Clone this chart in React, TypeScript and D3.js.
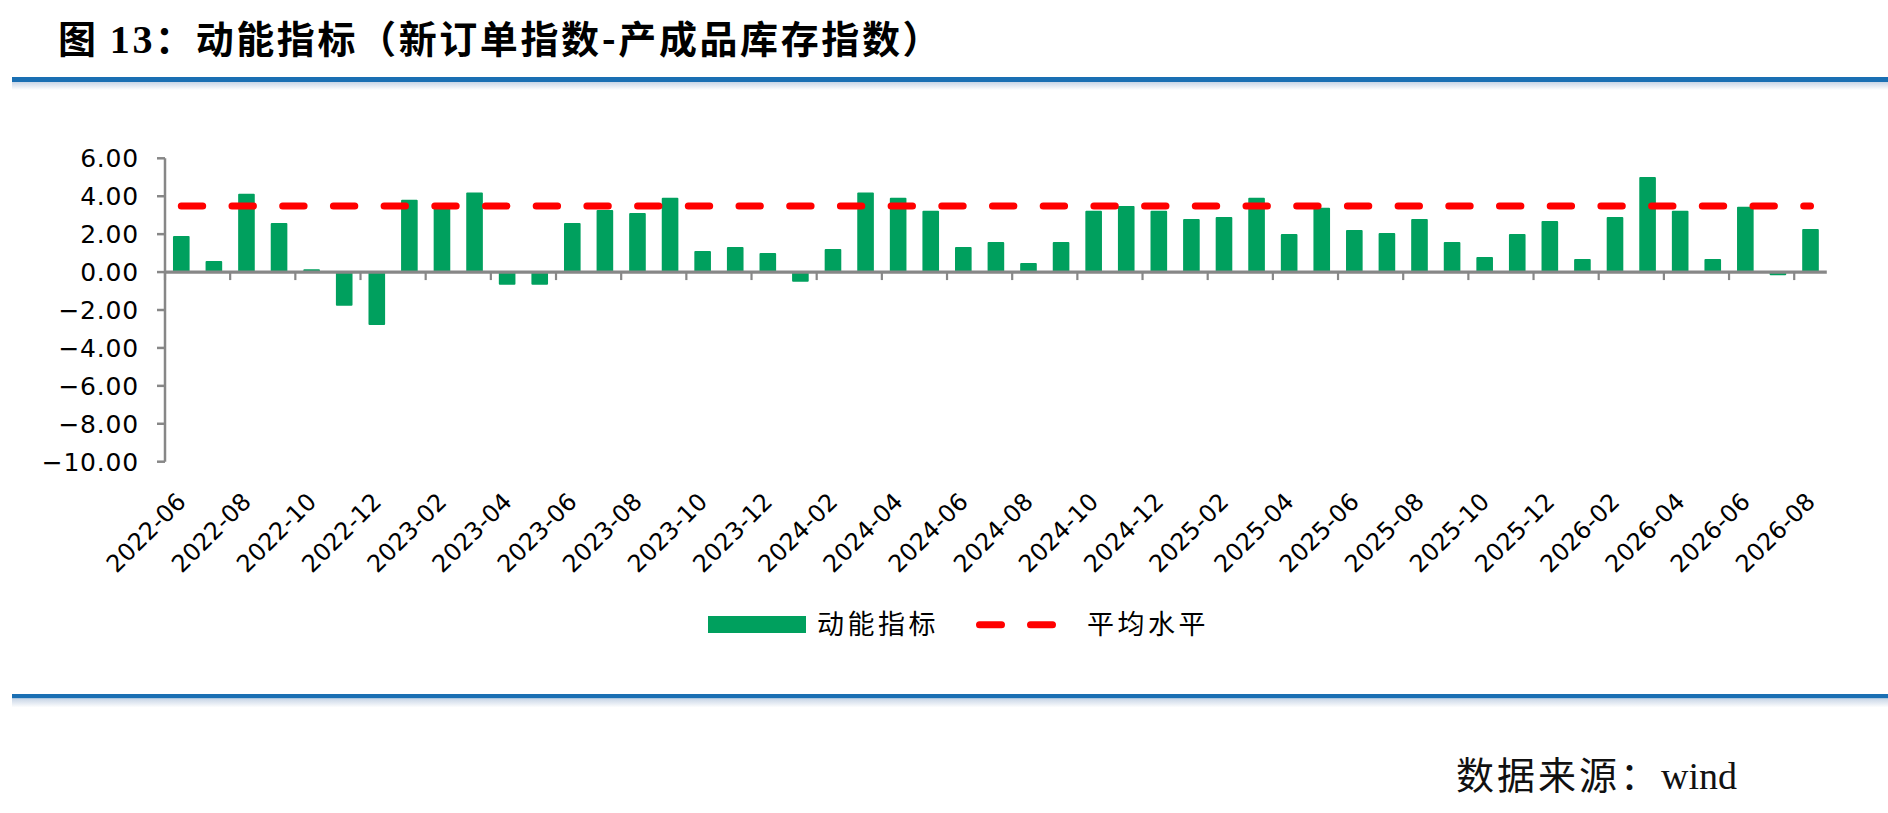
import React, { useEffect } from "react";
import * as d3 from "d3";

// categories (monthly)
const months = [
  "2022-06", "2022-07", "2022-08", "2022-09", "2022-10", "2022-11", "2022-12",
  "2023-01", "2023-02", "2023-03", "2023-04", "2023-05", "2023-06", "2023-07",
  "2023-08", "2023-09", "2023-10", "2023-11", "2023-12", "2024-01", "2024-02",
  "2024-03", "2024-04", "2024-05", "2024-06", "2024-07", "2024-08", "2024-09",
  "2024-10", "2024-11", "2024-12", "2025-01", "2025-02", "2025-03", "2025-04",
  "2025-05", "2025-06", "2025-07", "2025-08", "2025-09", "2025-10", "2025-11",
  "2025-12", "2026-01", "2026-02", "2026-03", "2026-04", "2026-05", "2026-06",
  "2026-07", "2026-08",
];

// 动能指标 = 新订单指数 - 产成品库存指数
const momentum = [
  1.90, 0.58, 4.13, 2.59, 0.15, -1.78, -2.79,
  3.81, 3.45, 4.20, -0.67, -0.67, 2.59, 3.28,
  3.12, 3.92, 1.11, 1.32, 1.01, -0.51, 1.22,
  4.20, 3.92, 3.23, 1.32, 1.59, 0.48, 1.59,
  3.23, 3.49, 3.23, 2.80, 2.91, 3.92, 2.01,
  3.39, 2.22, 2.06, 2.80, 1.59, 0.79, 2.01,
  2.70, 0.69, 2.91, 5.02, 3.23, 0.69, 3.45,
  -0.17, 2.27,
];

// 平均水平
const avgLevel = 3.48;

const yTicks = [-10, -8, -6, -4, -2, 0, 2, 4, 6];

const W = 1888;
const H = 813;
const GREEN = "#00A05E";
const RED = "#FF0000";
const AXIS = "#878787";
const BLUE = "#1A6FB3";
const CJK = "'Noto Sans CJK SC', sans-serif";
const NUM = "'DejaVu Sans', sans-serif";
const SERIF = "'Liberation Serif', serif";

export default function App() {
  useEffect(() => {
    document.body.style.margin = "0";
  }, []);

  const x = d3.scaleBand<string>()
    .domain(months)
    .range([165, 1826.8])
    .paddingInner(0.49)
    .paddingOuter(0.245);
  const y = d3.scaleLinear().domain([-10, 6]).range([461.7, 158.3]);
  const cx = (m: string) => (x(m) as number) + x.bandwidth() / 2;
  const step = x.step();
  const [x0, x1] = x.range();

  const avgLine = d3.line<string>()
    .x((m) => cx(m))
    .y(() => y(avgLevel));

  // tick marks at category boundaries, every 2 categories
  const boundaries = d3.range(0, months.length + 1, 2).map((i) => x0 + i * step);

  return (
    <svg width={W} height={H} style={{ display: "block", background: "#fff" }}>
      <defs>
        <linearGradient id="shade" x1="0" y1="0" x2="0" y2="1">
          <stop offset="0%" stopColor="#C8D5E6" />
          <stop offset="100%" stopColor="#ffffff" />
        </linearGradient>
      </defs>

      {/* title */}
      <text x={58} y={53} fontFamily={CJK} fontWeight={700} fontSize={38}
        letterSpacing={2.6} fill="#000">
        <tspan>图 </tspan>
        <tspan fontFamily={SERIF} fontSize={40}>13</tspan>
        <tspan>：动能指标（新订单指数-产成品库存指数）</tspan>
      </text>

      {/* header / footer rules */}
      <rect x={12} y={77} width={W - 12} height={5} fill={BLUE} />
      <rect x={12} y={82} width={W - 12} height={8} fill="url(#shade)" />
      <rect x={12} y={694} width={W - 12} height={4.5} fill={BLUE} />
      <rect x={12} y={698.5} width={W - 12} height={9} fill="url(#shade)" />

      {/* bars */}
      {months.map((m, i) => (
        <rect key={m} x={x(m)} width={x.bandwidth()}
          y={y(Math.max(0, momentum[i]))}
          height={Math.abs(y(momentum[i]) - y(0))}
          fill={GREEN} rx={1} />
      ))}

      {/* y axis */}
      <line x1={x0} x2={x0} y1={y(6)} y2={y(-10)} stroke={AXIS} strokeWidth={2.5} />
      {yTicks.map((t) => (
        <g key={t}>
          <line x1={x0 - 8} x2={x0} y1={y(t)} y2={y(t)} stroke={AXIS} strokeWidth={2.5} />
          <text x={139} y={y(t) + 9} textAnchor="end" fontFamily={NUM} fontSize={25}
            letterSpacing={0.8} fill="#000">
            {d3.format(".2f")(t)}
          </text>
        </g>
      ))}

      {/* x axis at zero */}
      <line x1={x0} x2={x1} y1={y(0)} y2={y(0)} stroke={AXIS} strokeWidth={3.2} />
      {boundaries.map((bx, i) => (
        <line key={i} x1={bx} x2={bx} y1={y(0)} y2={y(0) + 8} stroke={AXIS} strokeWidth={2.2} />
      ))}
      {months.map((m, i) => i % 2 === 0 ? (
        <text key={m} transform={`translate(${cx(m)},497) rotate(-45)`}
          textAnchor="end" dy="0.36em" fontFamily={NUM} fontSize={24} fill="#000">
          {m}
        </text>
      ) : null)}

      {/* average level */}
      <path d={avgLine(months) ?? ""} fill="none" stroke={RED} strokeWidth={7}
        strokeLinecap="round" strokeDasharray="21.4 29.3" />

      {/* legend */}
      <rect x={708} y={616} width={98} height={17} fill={GREEN} />
      <text x={817} y={634} fontFamily={CJK} fontSize={27} letterSpacing={3.5} fill="#000">动能指标</text>
      <line x1={979.5} x2={1052.5} y1={624.7} y2={624.7} stroke={RED} strokeWidth={7}
        strokeLinecap="round" strokeDasharray="22 29" />
      <text x={1087} y={634} fontFamily={CJK} fontSize={27} letterSpacing={3.5} fill="#000">平均水平</text>

      {/* source */}
      <text x={1456} y={789} fontSize={38} fill="#111">
        <tspan fontFamily={CJK} letterSpacing={3}>数据来源：</tspan>
        <tspan fontFamily={SERIF}>wind</tspan>
      </text>
    </svg>
  );
}
